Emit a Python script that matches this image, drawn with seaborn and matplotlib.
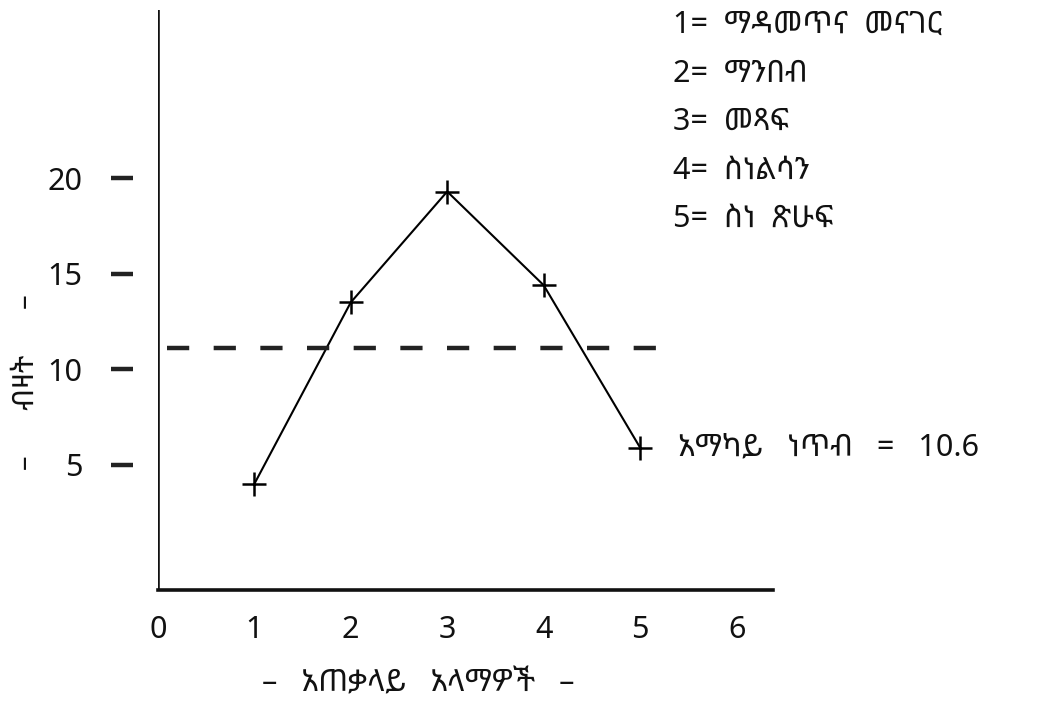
import matplotlib
matplotlib.use("Agg")
import matplotlib.pyplot as plt
import seaborn as sns
import pandas as pd

# general objectives (x) and counts (y)
objectives = [1, 2, 3, 4, 5]
counts = [4.0, 13.5, 19.3, 14.4, 5.9]

legend_lines = [
    "1=  ማዳመጥና  መናገር",
    "2=  ማንበብ",
    "3=  መጻፍ",
    "4=  ስነልሳን",
    "5=  ስነ  ጽሁፍ",
]
mean_level = 11.1          # where the dashed line is drawn
mean_text = "አማካይ   ነጥብ   =   10.6"
x_ticks = [0, 1, 2, 3, 4, 5, 6]
y_ticks = [5, 10, 15, 20]
x_title = "–   አጠቃላይ   አላማዎች   –"
y_title = "–      ብዛት      –"


def create_plot():
    sns.set_theme(style="white")
    plt.rcParams["font.family"] = ["Noto Sans Ethiopic", "DejaVu Sans"]

    df = pd.DataFrame({"objective": objectives, "count": counts})

    fig = plt.figure(figsize=(10.38, 7.07), dpi=100, facecolor="white")
    ax = fig.add_axes([0.152, 0.1655, 0.593, 0.8205])
    ax.set_facecolor("white")

    # the curve with cross markers
    sns.lineplot(data=df, x="objective", y="count", ax=ax, color="black",
                 linewidth=1.5, marker="+", markersize=17,
                 markeredgewidth=1.8, markeredgecolor="black")

    # dashed mean line
    ax.hlines(mean_level, 0.1, 5.4, colors="#222222", linewidth=3.2,
              linestyles=(0, (5, 5.5)))

    ax.annotate(mean_text, (objectives[-1], counts[-1]), xytext=(27, 0),
                textcoords="offset points", va="center", ha="left",
                fontsize=22, color="#111111")

    ax.set_xlim(0, 6.38)
    ax.set_ylim(-1.54, 28.8)

    # axes lines: y-axis drawn separately so tick dashes float left of it
    ax.axvline(0, color="#111111", linewidth=2.6)
    for side in ["top", "right"]:
        ax.spines[side].set_visible(False)
    ax.spines["left"].set_position(("outward", 18))
    ax.spines["left"].set_visible(False)
    ax.spines["bottom"].set_color("#111111")
    ax.spines["bottom"].set_linewidth(2.6)

    ax.set_xticks(x_ticks)
    ax.set_xticklabels([str(v) for v in x_ticks])
    ax.set_yticks(y_ticks)
    ax.set_yticklabels([str(v) for v in y_ticks])
    ax.tick_params(axis="x", length=0, pad=18, labelsize=22, labelcolor="#111111")
    ax.tick_params(axis="y", direction="out", length=16, width=3.2,
                   color="#222222", pad=20, labelsize=22, labelcolor="#111111",
                   left=True)
    ax.set_xlabel("")
    ax.set_ylabel("")

    # legend of objectives, top right
    for i, line in enumerate(legend_lines):
        fig.text(0.648, 1 - (25 + 48.5 * i) / 707, line, fontsize=22,
                 va="center", ha="left", color="#111111")

    fig.text(418 / 1038, 1 - 683 / 707, x_title, fontsize=22,
             ha="center", va="center", color="#111111")
    fig.text(26 / 1038, 1 - 382 / 707, y_title, fontsize=21, rotation=90,
             ha="center", va="center", color="#111111")

    fig.savefig("out.png", dpi=100, facecolor="white")
    plt.close(fig)


if __name__ == "__main__":
    create_plot()
